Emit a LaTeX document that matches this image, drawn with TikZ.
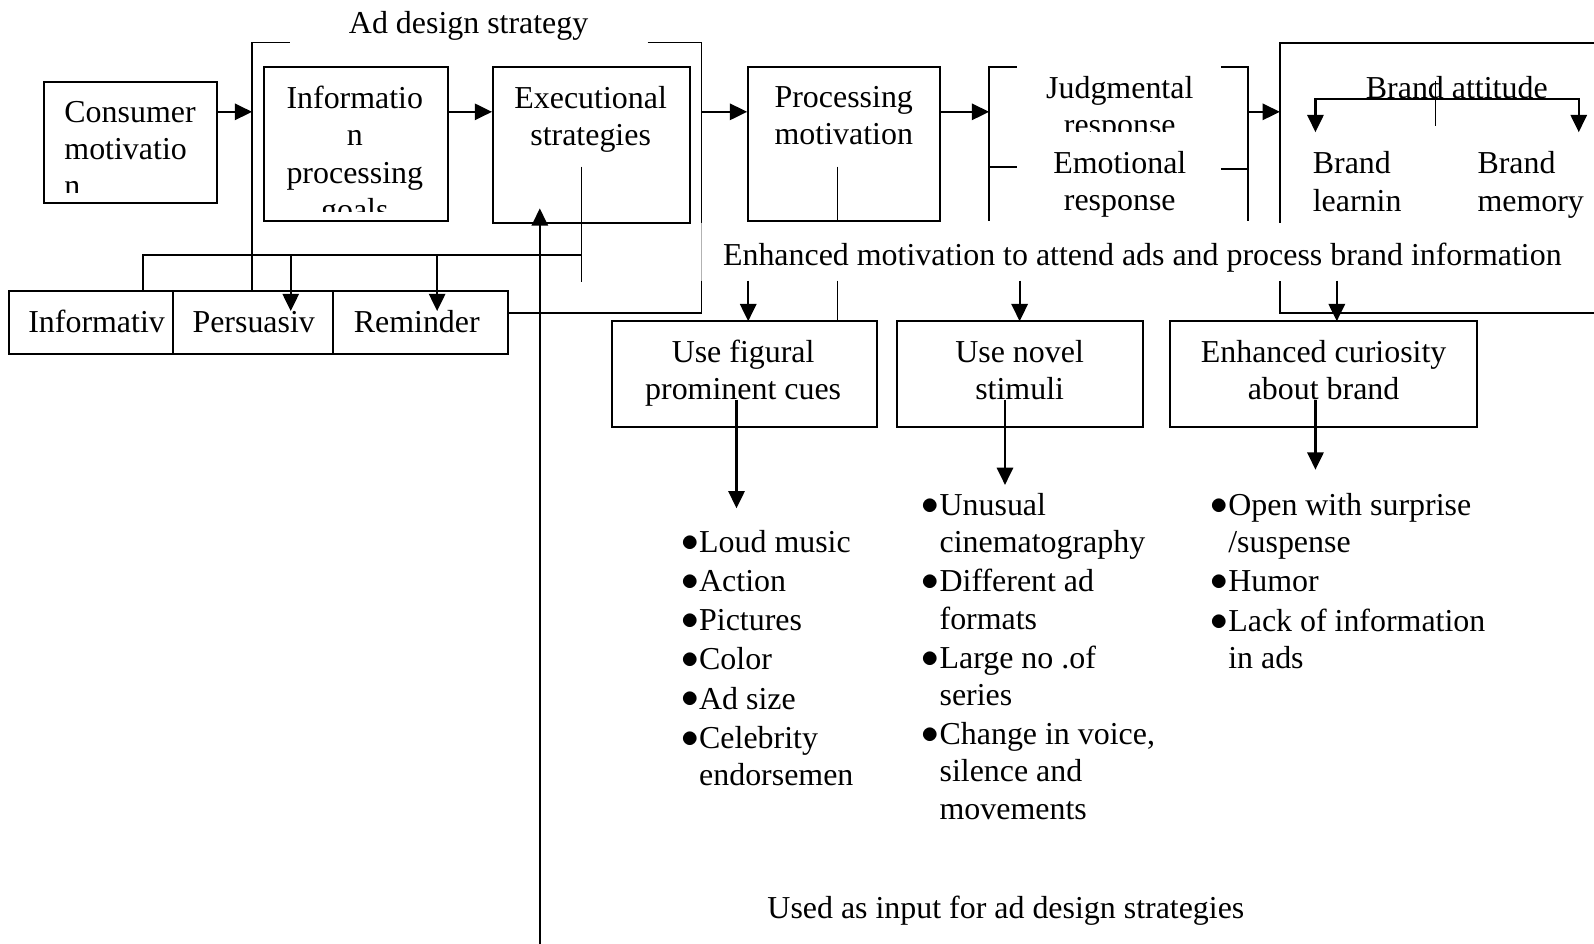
\documentclass[tikz,border=0pt]{standalone}
\usepackage{fontspec}
\setmainfont{Liberation Serif}
\usetikzlibrary{arrows.meta,fit}
\newcommand{\diagfont}{\fontsize{15.7}{18.3}\selectfont}
\newcommand{\bul}{\raisebox{0.5pt}{\scalebox{1.2}{$\bullet$}}}
\tikzset{
  box/.style={draw, line width=1pt, inner sep=0pt},
  txt/.style={font=\diagfont, inner sep=0pt, align=center, anchor=north, execute at begin node=\strut},
  lbl/.style={font=\diagfont, inner sep=0pt, anchor=base},
  bullets/.style={font=\diagfont, inner sep=0pt, anchor=north west},
  arr/.style={line width=1.1pt, -{Triangle[length=8.5pt,width=8pt]}},
  ln/.style={line width=1.1pt},
  thinln/.style={line width=0.7pt}
}
\begin{document}
\begin{tikzpicture}[x=0.5pt,y=-0.5pt]
\useasboundingbox (0,0) rectangle (1568,928);
\coordinate (row) at (0,110);
\coordinate (emB) at (0,276);

\node[box, fit={(43,81) (213,200)}] (cm) {};
\begin{scope}
\clip (cm.north west) rectangle ([yshift=5.8pt]cm.south east);
\node[txt, align=left, anchor=north west] (cmT) at (63,99.1) {Consumer\\motivatio\\n};
\end{scope}
\node[box, fit={(260,66) (441,217)}] (ipg) {};
\begin{scope}
\clip (ipg.north west) rectangle ([yshift=5.2pt]ipg.south east);
\node[txt] (ipgT) at (349,84.4) {Informatio\\n\\processing\\goals};
\end{scope}
\node[box, fit={(485,66) (679,219)}] (es) {};
\node[txt] (esT) at (581,84.4) {Executional\\strategies};

\node[lbl] (adsT) at (461,33.2) {Ad design strategy};
\coordinate (adsL) at (248,110);
\coordinate (adsR) at (690,110);
\draw[thinln] (285,42) -- (248,42) -- (248,286);
\draw[thinln] (637,42) -- (690,42) -- (690,219);
\draw[thinln, gray!60] (690,219) -- (690,276);
\draw[thinln] (690,276) -- (690,308) -- (500,308);

\node[box, fit={(9,286) (170,348)}] (inf) {};
\node[box, fit={(170,286) (328,348)}] (per) {};
\node[box, fit={(328,286) (500,348)}] (rem) {};
\node[lbl] (infT) at (95,327) {Informativ};
\node[lbl] (perT) at (249.6,327) {Persuasiv};
\node[lbl] (remT) at (410,327) {Reminder};

\coordinate (esIn) at (572,164);
\coordinate (esOut) at (572,277);
\coordinate (bus) at (572,251);
\coordinate (infIn) at (141,286);
\coordinate (perIn) at (286,306);
\coordinate (remIn) at (430,306);
\draw[thinln] (esIn) -- (esOut);
\draw[ln] (bus) -| (infIn);
\draw[arr] (perIn |- bus) -- (perIn);
\draw[arr] (remIn |- bus) -- (remIn);

\coordinate (fbTail) at (531,940);
\coordinate (fbHead) at (531,205);
\draw[arr] (fbTail) -- (fbHead);

\draw[arr] (cm.east |- row) -- (adsL);
\draw[arr] (ipg.east |- row) -- (es.west |- row);

\node[box, fit={(736,66) (925,217)}] (pm) {};
\node[txt] (pmT) at (830,84.4) {Processing\\motivation};
\draw[arr] (adsR) -- (pm.west |- row);

\coordinate (jrL) at (973,110);
\coordinate (jrR) at (1228,110);
\begin{scope}
\clip (1005,60) rectangle (1198,129.5);
\node[txt] (jrT) at (1101.5,74.4) {Judgmental\\response};
\end{scope}
\node[txt] (erT) at (1101.5,148.4) {Emotional\\response};
\draw[ln] (1000,66) -- (973,66) -- (973,217);
\draw[ln] (973,164) -- (1000,164);
\draw[ln] (1201,66) -- (1228,66) -- (1228,217);
\draw[ln] (1201,166) -- (1228,166);
\draw[arr] (pm.east |- row) -- (jrL);

\coordinate (baL) at (1259,110);
\draw[ln] (1259,219) -- (1259,42) -- (1610,42);
\draw[ln] (1610,308) -- (1259,308) -- (1259,276);
\draw[arr] (jrR) -- (baL);
\node[lbl] (baT) at (1433,97) {Brand attitude};
\coordinate (baMid) at (1412,97.4);
\coordinate (blIn) at (1294,130);
\coordinate (bmIn) at (1553,130);
\draw[arr] (baMid) -| (blIn);
\draw[arr] (baMid) -| (bmIn);
\draw[thinln] (1412,80) -- (1412,124);
\node[txt, align=left, anchor=north west] (blT) at (1291,148.9) {Brand\\learnin};
\node[txt, align=left, anchor=north west] (bmT) at (1453,148.9) {Brand\\memory};

\node[lbl] (emT) at (1123.7,261) {Enhanced motivation to attend ads and process brand information};

\node[box, fit={(602,316) (863,420)}] (ufc) {};
\node[box, fit={(882,316) (1124,420)}] (unv) {};
\node[box, fit={(1151,316) (1453,420)}] (ecb) {};
\node[txt] (ufcT) at (731,334) {Use figural\\prominent cues};
\node[txt] (unvT) at (1003,334) {Use novel\\stimuli};
\node[txt] (ecbT) at (1302,334) {Enhanced curiosity\\about brand};

\coordinate (pmIn) at (824,164);
\draw[thinln] (pmIn) -- (pmIn |- pm.south);
\draw[thinln] (pmIn |- emB) -- (pmIn |- ufc.north);

\coordinate (ufcIn) at (736,316);
\coordinate (unvIn) at (1003,316);
\coordinate (ecbIn) at (1315,316);
\draw[arr] (ufcIn |- emB) -- (ufcIn);
\draw[arr] (unvIn |- emB) -- (unvIn);
\draw[arr] (ecbIn |- emB) -- (ecbIn);

\coordinate (ufcOut) at (724.5,393);
\coordinate (lstA) at (724.5,500);
\coordinate (unvOut) at (988.6,393);
\coordinate (lstB) at (988.6,477);
\coordinate (ecbOut) at (1294,393);
\coordinate (lstC) at (1294,462);
\draw[arr] (ufcOut) -- (lstA);
\draw[arr] (unvOut) -- (lstB);
\draw[arr] (ecbOut) -- (lstC);

\node[bullets] (lstAT) at (669.5,517) {\begin{tabular}{@{}l@{\hspace{0.3pt}}l@{}}
\bul & Loud music\\[1pt]
\bul & Action\\[1pt]
\bul & Pictures\\[1pt]
\bul & Color\\[1pt]
\bul & Ad size\\[1pt]
\bul & Celebrity\\
 & endorsemen
\end{tabular}};
\node[bullets] (lstBT) at (906,481) {\begin{tabular}{@{}l@{\hspace{0.3pt}}l@{}}
\bul & Unusual\\
 & cinematography\\[1pt]
\bul & Different ad\\
 & formats\\[1pt]
\bul & Large no .of\\
 & series\\[1pt]
\bul & Change in voice,\\
 & silence and\\
 & movements
\end{tabular}};
\node[bullets] (lstCT) at (1190,481) {\begin{tabular}{@{}l@{\hspace{0.3pt}}l@{}}
\bul & Open with surprise\\
 & /suspense\\[1pt]
\bul & Humor\\[1pt]
\bul & Lack of information\\
 & in ads
\end{tabular}};

\node[lbl] (useT) at (989.5,903.7) {Used as input for ad design strategies};
\end{tikzpicture}
\end{document}
